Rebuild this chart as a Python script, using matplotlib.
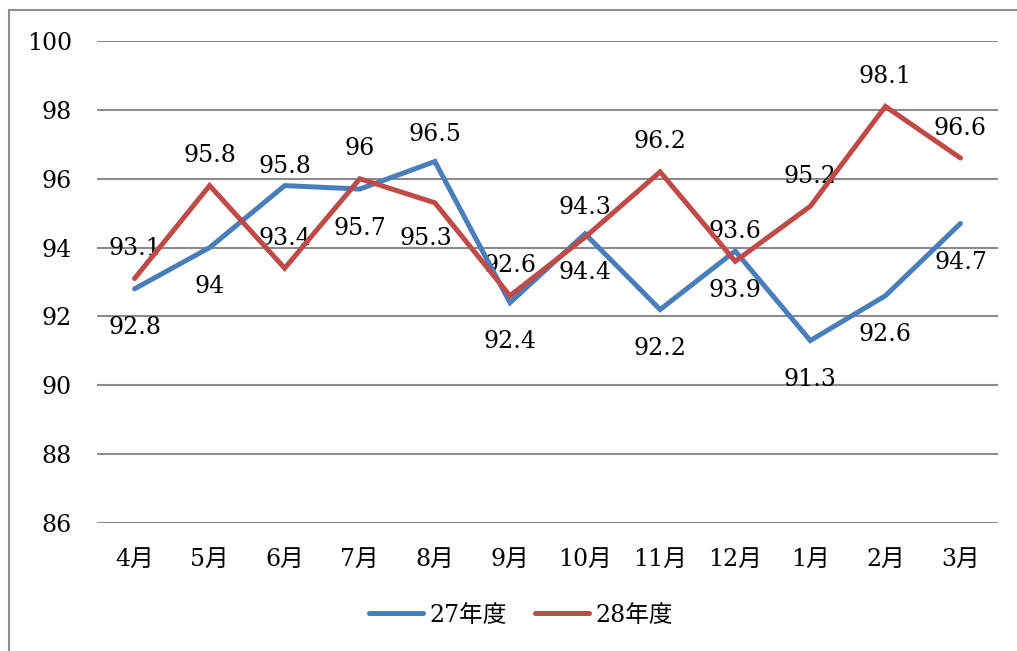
import matplotlib
matplotlib.use("Agg")
import matplotlib.pyplot as plt
from matplotlib.patches import Rectangle

# Monthly values for two fiscal years
months = ["4月", "5月", "6月", "7月", "8月", "9月", "10月", "11月", "12月", "1月", "2月", "3月"]
fy27 = [92.8, 94.0, 95.8, 95.7, 96.5, 92.4, 94.4, 92.2, 93.9, 91.3, 92.6, 94.7]
fy28 = [93.1, 95.8, 93.4, 96.0, 95.3, 92.6, 94.3, 96.2, 93.6, 95.2, 98.1, 96.6]
series_names = ["27年度", "28年度"]
y_ticks = [86, 88, 90, 92, 94, 96, 98, 100]

BLUE = "#4A7EBB"
RED = "#BE4B48"
GRID = "#8C8C8C"
FONT = ["DejaVu Serif", "Noto Sans CJK JP"]
FS = 17

plt.rcParams["font.family"] = FONT

W, H = 1017, 651
fig = plt.figure(figsize=(W / 100, H / 100), dpi=100)
ax = fig.add_axes([97 / W, 1 - 523 / H, (998 - 97) / W, (523 - 41) / H])

x = list(range(len(months)))
l1, = ax.plot(x, fy27, color=BLUE, lw=3.6, solid_capstyle="round",
              solid_joinstyle="miter", zorder=3, label=series_names[0])
l2, = ax.plot(x, fy28, color=RED, lw=3.6, solid_capstyle="round",
              solid_joinstyle="miter", zorder=4, label=series_names[1])

ax.set_xlim(-0.5, len(months) - 0.5)
ax.set_ylim(86, 100)
ax.set_yticks(y_ticks)
ax.set_yticklabels([str(v) for v in y_ticks])
ax.set_xticks(x)
ax.set_xticklabels(months)
ax.tick_params(axis="both", length=0, labelsize=FS, colors="black")
ax.tick_params(axis="y", pad=18)
ax.tick_params(axis="x", pad=18)
ax.grid(axis="y", color=GRID, lw=1.5)
ax.set_axisbelow(True)
for s in ax.spines.values():
    s.set_visible(False)

# Data label placement: vertical offset (pixels, label centre from point)
blue_dy = [-37] * len(fy27)
blue_dy[2] = 21
blue_dy[4] = 29
red_dy = [32] * len(fy28)
red_dy[4] = -34
red_dx = [0] * len(fy28)
red_dx[4] = -9
HALF_DIGIT = 8.5

def label(xs, ys, dys, dxs):
    for xi, yi, dy, dx in zip(xs, ys, dys, dxs):
        ax.annotate(f"{yi:g}", (xi, yi), xytext=(dx, dy - HALF_DIGIT),
                    textcoords="offset pixels", ha="center", va="baseline",
                    fontsize=FS, zorder=2)

label(x, fy27, blue_dy, [0] * len(fy27))
label(x, fy28, red_dy, red_dx)

leg = fig.legend(handles=[l1, l2], loc="center", bbox_to_anchor=(521 / W, 1 - 615 / H),
                 ncol=2, frameon=False, fontsize=FS, handlelength=2.3,
                 handletextpad=0.25, columnspacing=1.2)

# Outer chart border
fig.patches.append(Rectangle((9 / W, -0.05), 1.2, 1.05 - 10 / H,
                             transform=fig.transFigure, fill=False,
                             edgecolor="#8C8C8C", lw=1.5))

fig.savefig("out.png", dpi=100)
